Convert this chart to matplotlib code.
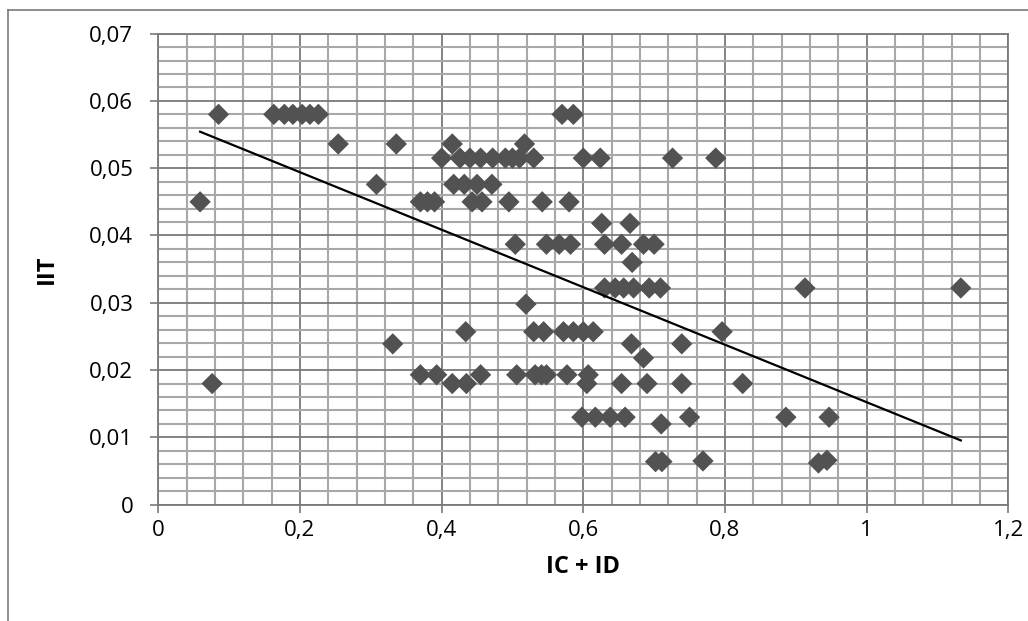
import numpy as np
import matplotlib
matplotlib.use("Agg")
import matplotlib.pyplot as plt
from matplotlib.ticker import MultipleLocator, FuncFormatter
from matplotlib.lines import Line2D

plt.rcParams['font.family'] = ['Open Sans', 'DejaVu Sans']

# values, grouped by IIT level
ic_id = [
    0.085, 0.163, 0.178, 0.190, 0.203, 0.214, 0.226, 0.570, 0.586,
    0.254, 0.336, 0.415, 0.517,
    0.400, 0.426, 0.440, 0.455, 0.472, 0.490, 0.500, 0.510, 0.530, 0.600, 0.624, 0.726, 0.787,
    0.308, 0.417, 0.432, 0.450, 0.471,
    0.059, 0.370, 0.380, 0.390, 0.443, 0.457, 0.495, 0.542, 0.580,
    0.626, 0.666,
    0.504, 0.548, 0.566, 0.582, 0.630, 0.654, 0.685, 0.700,
    0.669,
    0.630, 0.645, 0.657, 0.671, 0.693, 0.709, 0.913, 1.133,
    0.519,
    0.434, 0.530, 0.544, 0.572, 0.586, 0.600, 0.614, 0.796,
    0.331, 0.668, 0.739,
    0.685,
    0.370, 0.393, 0.455, 0.506, 0.532, 0.541, 0.548, 0.577, 0.607,
    0.076, 0.415, 0.435, 0.605, 0.654, 0.690, 0.739, 0.825,
    0.598, 0.617, 0.638, 0.659, 0.750, 0.886, 0.947,
    0.710,
    0.702, 0.711, 0.769, 0.932, 0.944,
]
iit = (
    [0.058] * 9 + [0.0536] * 4 + [0.0515] * 13 + [0.0476] * 5 + [0.045] * 9
    + [0.0418] * 2 + [0.0387] * 8 + [0.036] + [0.0322] * 8 + [0.0298]
    + [0.0257] * 8 + [0.0239] * 3 + [0.0218] + [0.0193] * 9 + [0.018] * 8
    + [0.013] * 7 + [0.012] + [0.0064, 0.0064, 0.0065, 0.0062, 0.0066]
)

x_label = "IC + ID"
y_label = "IIT"


def comma_fmt(v, pos):
    s = f"{v:.2f}".rstrip("0").rstrip(".")
    return s.replace(".", ",")


x = np.array(ic_id)
y = np.array(iit)
slope, intercept = np.polyfit(x, y, 1)
xs = np.array([x.min(), x.max()])

fig = plt.figure(figsize=(10.28, 6.21), dpi=100)
ax = fig.add_axes([0.154, 0.1873, 0.8268, 0.7586])

ax.set_xlim(0, 1.2)
ax.set_ylim(0, 0.07)
ax.xaxis.set_major_locator(MultipleLocator(0.2))
ax.xaxis.set_minor_locator(MultipleLocator(0.04))
ax.yaxis.set_major_locator(MultipleLocator(0.01))
ax.yaxis.set_minor_locator(MultipleLocator(0.002))
ax.xaxis.set_major_formatter(FuncFormatter(comma_fmt))
ax.yaxis.set_major_formatter(FuncFormatter(comma_fmt))

ax.grid(which='minor', color='#a8a8a8', lw=1.5, zorder=0)
ax.grid(which='major', color='#7a7a7a', lw=1.3, zorder=0)
ax.set_axisbelow(True)
ax.tick_params(which='major', length=6, width=1.2, color='#7a7a7a',
               labelsize=16, pad=12)
ax.tick_params(axis='x', which='major', pad=5)
ax.tick_params(which='minor', length=0)
for sp in ax.spines.values():
    sp.set_color('#7a7a7a')
    sp.set_linewidth(1.3)

ax.scatter(x, y, marker='D', s=118, color='#525252', edgecolors='none',
           zorder=3, clip_on=False)
ax.plot(xs, slope * xs + intercept, color='black', lw=1.6, zorder=4)

ax.set_xlabel(x_label, fontsize=17, fontweight='bold', labelpad=10)
ax.set_ylabel(y_label, fontsize=17, fontweight='bold', labelpad=22)

# outer chart border (left and top visible in the crop)
fig.add_artist(Line2D([8 / 1028, 8 / 1028], [0, 1 - 10 / 621],
                      transform=fig.transFigure, color='#7a7a7a', lw=1.2))
fig.add_artist(Line2D([8 / 1028, 1], [1 - 10 / 621, 1 - 10 / 621],
                      transform=fig.transFigure, color='#7a7a7a', lw=1.2))

fig.savefig("out.png", dpi=100)
